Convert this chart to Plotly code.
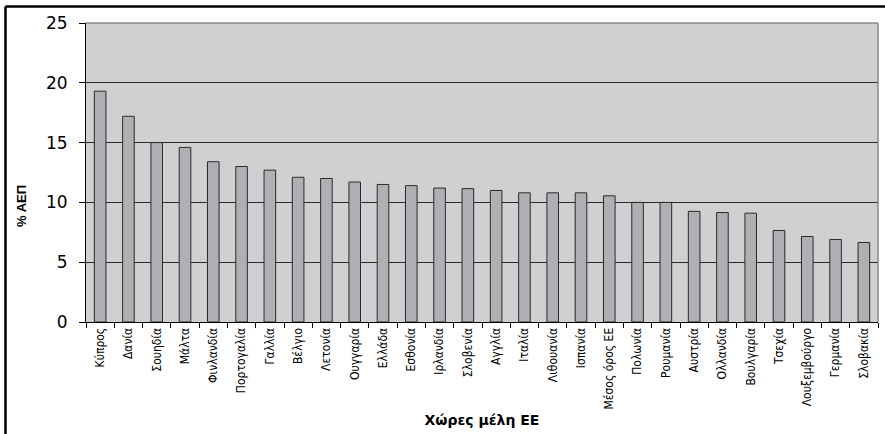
import plotly.graph_objects as go

# Κατηγορίες (χώρες) και τιμές ως % ΑΕΠ
countries = [
    "Κύπρος", "Δανία", "Σουηδία", "Μάλτα", "Φινλανδία", "Πορτογαλία",
    "Γαλλία", "Βέλγιο", "Λετονία", "Ουγγαρία", "Ελλάδα", "Εσθονία",
    "Ιρλανδία", "Σλοβενία", "Αγγλία", "Ιταλία", "Λιθουανία", "Ισπανία",
    "Μέσος όρος ΕΕ", "Πολωνία", "Ρουμανία", "Αυστρία", "Ολλανδία",
    "Βουλγαρία", "Τσεχία", "Λουξεμβούργο", "Γερμανία", "Σλοβακία",
]
values = [
    19.3, 17.2, 15.0, 14.6, 13.4, 13.0,
    12.7, 12.1, 12.0, 11.7, 11.5, 11.4,
    11.2, 11.15, 11.0, 10.8, 10.8, 10.8,
    10.55, 10.0, 10.0, 9.25, 9.15,
    9.1, 7.65, 7.15, 6.9, 6.65,
]
y_ticks = [0, 5, 10, 15, 20, 25]

fig = go.Figure(
    go.Bar(
        x=countries,
        y=values,
        marker=dict(color="#b0b0b4", line=dict(color="#2a2a2a", width=1)),
    )
)

W, H = 885, 434
L, R, T, B = 86, 7, 23, 112
pw, ph = W - L - R, H - T - B

fig.update_layout(
    width=W,
    height=H,
    margin=dict(l=L, r=R, t=T, b=B),
    paper_bgcolor="white",
    plot_bgcolor="#d0d0d2",
    bargap=0.59,
    showlegend=False,
    font=dict(family="Liberation Sans, Arial, sans-serif", color="black"),
)

fig.update_xaxes(
    type="category",
    tickangle=-90,
    tickfont=dict(family="Liberation Sans Narrow, Arial Narrow, DejaVu Sans Condensed, sans-serif", size=12),
    ticks="outside",
    tickson="boundaries",
    ticklen=5,
    tickcolor="black",
    showline=True,
    linecolor="black",
    linewidth=1,
    showgrid=False,
    title=dict(text="<b>Χώρες μέλη ΕΕ</b>",
               font=dict(family="DejaVu Sans, sans-serif", size=14), standoff=6),
)

fig.update_yaxes(
    range=[0, 25],
    tickvals=y_ticks,
    tickfont=dict(family="DejaVu Sans, sans-serif", size=17),
    ticks="outside",
    ticklen=6,
    tickcolor="black",
    ticklabelstandoff=8,
    showline=True,
    linecolor="black",
    linewidth=1,
    showgrid=True,
    gridcolor="#2a2a2a",
    gridwidth=1,
    zeroline=False,
)

# Αριστερή ετικέτα άξονα
fig.add_annotation(
    text="<b>% ΑΕΠ</b>",
    textangle=-90,
    xref="paper", yref="paper",
    x=(21 - L) / pw, y=(H - B - 206) / ph,
    xanchor="center", yanchor="middle",
    showarrow=False,
    font=dict(size=13),
)

# Πλαίσιο περιοχής σχεδίασης (πάνω και δεξιά)
fig.add_shape(type="line", xref="paper", yref="paper", x0=0, x1=1, y0=1, y1=1,
              line=dict(color="#8a8a8a", width=1.5))
fig.add_shape(type="line", xref="paper", yref="paper", x0=1, x1=1, y0=0, y1=1,
              line=dict(color="#8a8a8a", width=1.5))

# Εξωτερικό πλαίσιο γραφήματος
bx = (5.5 - L) / pw
by = (H - B - 6.5) / ph
fig.add_shape(type="line", xref="paper", yref="paper", x0=bx, x1=bx, y0=-1, y1=by,
              line=dict(color="black", width=2.5))
fig.add_shape(type="line", xref="paper", yref="paper", x0=bx, x1=1.2, y0=by, y1=by,
              line=dict(color="black", width=2.5))

fig.write_html("out.html")
